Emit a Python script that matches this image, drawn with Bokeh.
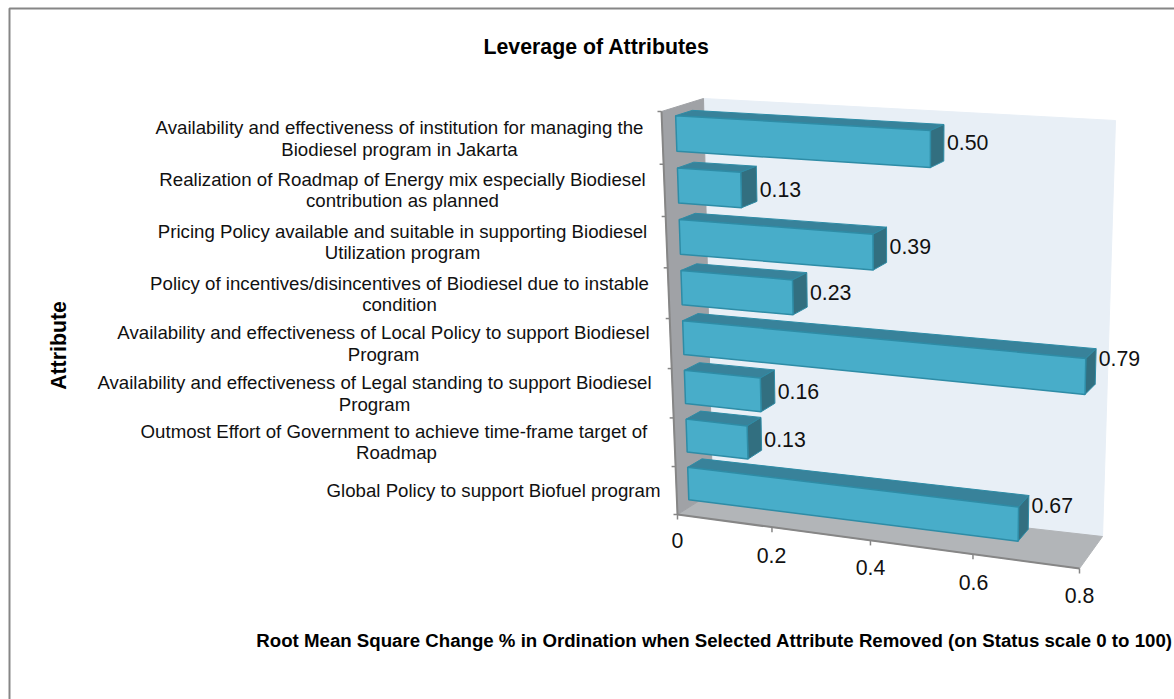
from math import pi
from bokeh.plotting import figure
from bokeh.models import Range1d
from bokeh.core.properties import value
from bokeh.embed import file_html
from bokeh.resources import INLINE

# ---- data (bottom of the chart first) ----
values = [0.67, 0.13, 0.16, 0.79, 0.23, 0.39, 0.13, 0.50]
value_texts = ["0.67", "0.13", "0.16", "0.79", "0.23", "0.39", "0.13", "0.50"]
category_lines = [
    ["Global Policy to support Biofuel program"],
    ["Outmost Effort of Government to  achieve time-frame target of", "Roadmap"],
    ["Availability and effectiveness of Legal standing to support Biodiesel", "Program"],
    ["Availability and effectiveness of Local Policy to support Biodiesel", "Program"],
    ["Policy of incentives/disincentives of Biodiesel due to instable", "condition"],
    ["Pricing Policy available and suitable in supporting Biodiesel", "Utilization program"],
    ["Realization of Roadmap of Energy mix especially Biodiesel", "contribution as planned"],
    ["Availability and effectiveness of institution for managing the", "Biodiesel program in Jakarta"],
]
x_ticks = [0, 0.2, 0.4, 0.6, 0.8]
x_tick_labels = ["0", "0.2", "0.4", "0.6", "0.8"]
x_max = 0.8
title = "Leverage of Attributes"
x_title = "Root Mean Square Change % in Ordination when Selected Attribute Removed (on Status scale 0 to 100)"
y_title = "Attribute"

# ---- layout ----
FBL, FBR, FTL, FTR = (677, 514), (1079, 568), (661, 111), (1086, 136)
BBL, BBR, BTL, BTR = (712, 492), (1102, 536), (703, 98), (1115, 120)
D0, D1 = 0.33, 0.73
C_PAD = 0.16
WARP_C = 0.055
WARP_U = 0.08
label_cx = [493, 396, 374, 383, 399, 402, 402, 399]
label_y1 = [490, 431, 382, 332, 283, 231, 179, 127]
label_y2 = [None, 452, 404, 354, 304, 252, 200, 149]
value_y = [505, 439, 391, 358, 292, 246, 189, 142]
tick_label_pos = [(677, 540), (771, 555), (870, 567), (973, 582), (1079, 595)]
FONT = value("Liberation Sans")
FRONT, TOP, SIDE, EDGE = "#48ADC9", "#38829A", "#326F80", "#2E8CA6"
AXIS = "#868686"


def lerp(a, b, t):
    return (a[0] + (b[0] - a[0]) * t, a[1] + (b[1] - a[1]) * t)


def project(v, c, d):
    u = v / x_max
    uw = u - WARP_U * u * (1 - u)
    cw = c - WARP_C * c * (1 - c)
    bottom = lerp(lerp(FBL, BBL, d), lerp(FBR, BBR, d), uw)
    top = lerp(lerp(FTL, BTL, d), lerp(FTR, BTR, d), uw)
    return lerp(bottom, top, cw)


def quad(*pts):
    return [q[0] for q in pts], [q[1] for q in pts]


p = figure(width=1174, height=699, x_range=Range1d(0, 1174), y_range=Range1d(699, 0),
           x_axis_type=None, y_axis_type=None, toolbar_location=None,
           output_backend="svg", min_border=0, outline_line_color=None,
           background_fill_color="white", border_fill_color="white")
p.grid.visible = False

# frame of the picture
p.line([9, 9, 1174], [699, 8, 8], line_color=AXIS, line_width=2)

# walls
x, y = quad(BTL, BTR, BBR, BBL)
p.patch(x, y, fill_color="#E8EFF6", line_color="#E8EFF6")
x, y = quad(FBL, FBR, BBR, BBL)
p.patch(x, y, fill_color="#B2B5B8", line_color="#B2B5B8")
x, y = quad(FTL, BTL, BBL, FBL)
p.patch(x, y, fill_color="#A0A2A6", line_color="#A0A2A6")

# axis lines and ticks
p.line([FTL[0], FBL[0], FBR[0]], [FTL[1], FBL[1], FBR[1]], line_color=AXIS, line_width=2)
n = len(values)
for i in range(n + 1):
    q = project(0, i / n, 0)
    p.line([q[0] - 4, q[0]], [q[1], q[1]], line_color=AXIS, line_width=1.5)
for t in x_ticks:
    q = project(t, 0, 0)
    p.line([q[0], q[0]], [q[1], q[1] + 5], line_color=AXIS, line_width=1.5)

# bars, from the back row (top) to the front row (bottom)
for i in range(n - 1, -1, -1):
    v = values[i]
    c0, c1 = (i + C_PAD) / n, (i + 1 - C_PAD) / n
    x, y = quad(project(0, c1, D0), project(0, c1, D1), project(v, c1, D1), project(v, c1, D0))
    p.patch(x, y, fill_color=TOP, line_color=EDGE, line_width=1)
    x, y = quad(project(v, c0, D0), project(v, c1, D0), project(v, c1, D1), project(v, c0, D1))
    p.patch(x, y, fill_color=SIDE, line_color=EDGE, line_width=1)
    x, y = quad(project(0, c0, D0), project(0, c1, D0), project(v, c1, D0), project(v, c0, D0))
    p.patch(x, y, fill_color=FRONT, line_color=EDGE, line_width=1.5)
    q = project(v, (c0 + c1) / 2, D1)
    p.text([q[0] + 3], [value_y[i]], text=[value_texts[i]], text_font=FONT, text_font_size="21.3px",
           text_color="#111111", text_align="left", text_baseline="middle")

# category labels
for i, lines in enumerate(category_lines):
    ys = [label_y1[i], label_y2[i]]
    for line, yy in zip(lines, ys):
        p.text([label_cx[i]], [yy], text=[line], text_font=FONT, text_font_size="18.67px",
               text_color="#111111", text_align="center", text_baseline="middle")

# tick labels
for lab, (tx, ty) in zip(x_tick_labels, tick_label_pos):
    p.text([tx], [ty], text=[lab], text_font=FONT, text_font_size="21.3px",
           text_color="#111111", text_align="center", text_baseline="middle")

# titles
p.text([596], [46], text=[title], text_font=FONT, text_font_size="21.3px", text_font_style="bold",
       text_color="black", text_align="center", text_baseline="middle")
p.text([714], [640], text=[x_title], text_font=FONT, text_font_size="18.67px", text_font_style="bold",
       text_color="black", text_align="center", text_baseline="middle")
p.text([58], [345], text=[y_title], text_font=FONT, text_font_size="21.3px", text_font_style="bold",
       text_color="black", text_align="center", text_baseline="middle", angle=pi / 2)

open("out.html", "w").write(file_html(p, INLINE))
